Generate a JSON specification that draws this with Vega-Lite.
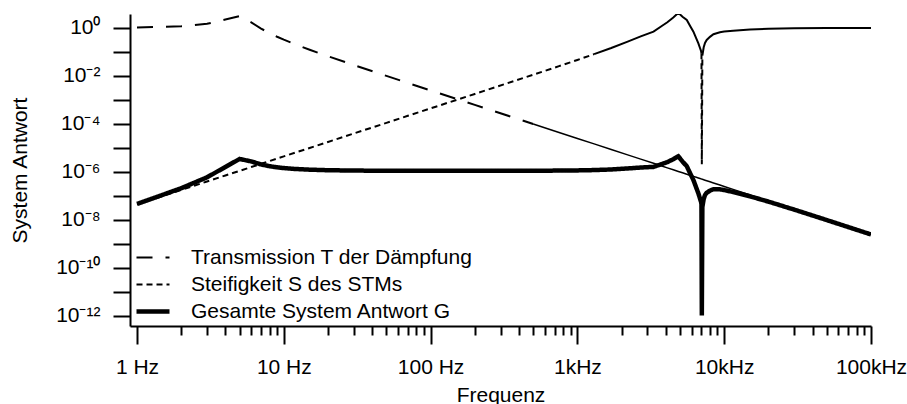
{
  "$schema": "https://vega.github.io/schema/vega-lite/v6.json",
  "width": 741,
  "height": 312,
  "autosize": {"type": "none"},
  "padding": {"left": 130, "top": 14, "right": 36, "bottom": 78},
  "background": "white",
  "config": {
    "view": {"stroke": null},
    "font": "Liberation Sans",
    "axis": {
      "grid": false,
      "domainColor": "black",
      "tickColor": "black",
      "labelColor": "black",
      "titleColor": "black",
      "domainWidth": 2,
      "tickWidth": 2,
      "labelFontSize": 21,
      "titleFontSize": 21,
      "titleFontWeight": "normal",
      "labelFont": "Liberation Sans",
      "titleFont": "Liberation Sans"
    }
  },
  "data": {
    "values": [
      {"f": 1, "T": 1.04, "S": 4.467e-8, "G": 4.646e-8},
      {"f": 2, "T": 1.178, "S": 1.786e-7, "G": 2.104e-7},
      {"f": 3, "T": 1.496, "S": 4.02e-7, "G": 6.014e-7},
      {"f": 4, "T": 2.265, "S": 7.147e-7, "G": 1.619e-6},
      {"f": 5, "T": 3.126, "S": 1.117e-6, "G": 3.492e-6},
      {"f": 6, "T": 1.714, "S": 1.608e-6, "G": 2.756e-6},
      {"f": 7, "T": 0.944, "S": 2.189e-6, "G": 2.066e-6},
      {"f": 8, "T": 0.61, "S": 2.859e-6, "G": 1.744e-6},
      {"f": 9, "T": 0.4325, "S": 3.618e-6, "G": 1.565e-6},
      {"f": 10, "T": 0.326, "S": 4.467e-6, "G": 1.456e-6},
      {"f": 12, "T": 0.2075, "S": 6.432e-6, "G": 1.335e-6},
      {"f": 15, "T": 0.1242, "S": 1.005e-5, "G": 1.248e-6},
      {"f": 20, "T": 0.06637, "S": 1.787e-5, "G": 1.186e-6},
      {"f": 30, "T": 0.02851, "S": 4.02e-5, "G": 1.146e-6},
      {"f": 50, "T": 0.01009, "S": 1.117e-4, "G": 1.127e-6},
      {"f": 70, "T": 0.005127, "S": 2.189e-4, "G": 1.122e-6},
      {"f": 100, "T": 0.002506, "S": 4.467e-4, "G": 1.119e-6},
      {"f": 200, "T": 6.254e-4, "S": 1.787e-3, "G": 1.118e-6},
      {"f": 500, "T": 1.0e-4, "S": 1.128e-2, "G": 1.128e-6},
      {"f": 750, "T": 4.445e-5, "S": 0.02573, "G": 1.144e-6},
      {"f": 1000, "T": 2.5e-5, "S": 0.04664, "G": 1.166e-6},
      {"f": 1300, "T": 1.479e-5, "S": 0.0813, "G": 1.202e-6},
      {"f": 1700, "T": 8.651e-6, "S": 0.147, "G": 1.272e-6},
      {"f": 2200, "T": 5.165e-6, "S": 0.2718, "G": 1.404e-6},
      {"f": 2700, "T": 3.429e-6, "S": 0.447, "G": 1.533e-6},
      {"f": 3300, "T": 2.296e-6, "S": 0.71, "G": 1.63e-6},
      {"f": 3800, "T": 1.731e-6, "S": 1.27, "G": 2.198e-6},
      {"f": 4100, "T": 1.487e-6, "S": 1.738, "G": 2.584e-6},
      {"f": 4500, "T": 1.235e-6, "S": 2.754, "G": 3.401e-6},
      {"f": 4870, "T": 1.054e-6, "S": 4.266, "G": 4.496e-6},
      {"f": 5200, "T": 9.246e-7, "S": 2.95, "G": 2.728e-6},
      {"f": 5560, "T": 8.087e-7, "S": 2.153, "G": 1.741e-6},
      {"f": 5900, "T": 7.182e-7, "S": 1.127, "G": 8.094e-7},
      {"f": 6170, "T": 6.567e-7, "S": 0.703, "G": 4.617e-7},
      {"f": 6450, "T": 6.009e-7, "S": 0.368, "G": 2.211e-7},
      {"f": 6670, "T": 5.619e-7, "S": 0.229, "G": 1.287e-7},
      {"f": 6850, "T": 5.328e-7, "S": 0.143, "G": 7.619e-8},
      {"f": 6950, "T": 5.176e-7, "S": 0.112, "G": 5.797e-8},
      {"f": 7000, "T": 5.102e-7, "S": 0.0891, "G": 4.546e-8},
      {"f": 7040, "T": 5.044e-7, "S": 2.09e-6, "G": 1.054e-12},
      {"f": 7100, "T": 4.959e-7, "S": 0.0708, "G": 3.511e-8},
      {"f": 7250, "T": 4.756e-7, "S": 0.158, "G": 7.514e-8},
      {"f": 7400, "T": 4.565e-7, "S": 0.24, "G": 1.096e-7},
      {"f": 7600, "T": 4.328e-7, "S": 0.316, "G": 1.368e-7},
      {"f": 8000, "T": 3.906e-7, "S": 0.427, "G": 1.668e-7},
      {"f": 8450, "T": 3.501e-7, "S": 0.55, "G": 1.926e-7},
      {"f": 9350, "T": 2.86e-7, "S": 0.661, "G": 1.89e-7},
      {"f": 10000, "T": 2.5e-7, "S": 0.708, "G": 1.77e-7},
      {"f": 11500, "T": 1.89e-7, "S": 0.776, "G": 1.467e-7},
      {"f": 15000, "T": 1.111e-7, "S": 0.871, "G": 9.677e-8},
      {"f": 20000, "T": 6.25e-8, "S": 0.933, "G": 5.831e-8},
      {"f": 30000, "T": 2.778e-8, "S": 0.973, "G": 2.703e-8},
      {"f": 50000, "T": 1.0e-8, "S": 0.991, "G": 9.91e-9},
      {"f": 100000, "T": 2.5e-9, "S": 0.998, "G": 2.495e-9}
    ]
  },
  "transform": [{"fold": ["T", "S", "G"], "as": ["series", "v"]}],
  "resolve": {"axis": {"x": "independent", "y": "independent"}},
  "layer": [
    {
      "transform": [{"filter": "datum.series == 'T' && datum.f <= 500"}],
      "mark": {"type": "line", "stroke": "black", "strokeWidth": 2, "strokeDash": [16, 13], "clip": true},
      "encoding": {
        "x": {"field": "f", "type": "quantitative", "scale": {"type": "log", "domain": [0.896, 100000], "nice": false}, "axis": null},
        "y": {"field": "v", "type": "quantitative", "scale": {"type": "log", "domain": [3.828e-13, 3.828], "nice": false}, "axis": null}
      }
    },
    {
      "transform": [{"filter": "datum.series == 'T' && datum.f >= 500"}],
      "mark": {"type": "line", "stroke": "black", "strokeWidth": 1.5, "clip": true},
      "encoding": {
        "x": {"field": "f", "type": "quantitative", "scale": {"type": "log", "domain": [0.896, 100000], "nice": false},
          "axis": {"orient": "bottom", "values": [2, 3, 4, 5, 6, 7, 8, 9, 20, 30, 40, 50, 60, 70, 80, 90, 200, 300, 400, 500, 600, 700, 800, 900, 2000, 3000, 4000, 5000, 6000, 7000, 8000, 9000, 20000, 30000, 40000, 50000, 60000, 70000, 80000, 90000],
            "tickSize": 9, "labels": false, "domain": false, "title": null}},
        "y": {"field": "v", "type": "quantitative", "scale": {"type": "log", "domain": [3.828e-13, 3.828], "nice": false}, "axis": null}
      }
    },
    {
      "transform": [{"filter": "datum.series == 'S' && datum.f <= 1300"}],
      "mark": {"type": "line", "stroke": "black", "strokeWidth": 2, "strokeDash": [6, 4], "clip": true},
      "encoding": {
        "x": {"field": "f", "type": "quantitative", "scale": {"type": "log", "domain": [0.896, 100000], "nice": false}, "axis": null},
        "y": {"field": "v", "type": "quantitative", "scale": {"type": "log", "domain": [3.828e-13, 3.828], "nice": false}, "axis": null}
      }
    },
    {
      "transform": [{"filter": "datum.series == 'S' && datum.f >= 1300 && datum.f <= 7000"}],
      "mark": {"type": "line", "stroke": "black", "strokeWidth": 2, "clip": true},
      "encoding": {
        "x": {"field": "f", "type": "quantitative", "scale": {"type": "log", "domain": [0.896, 100000], "nice": false}, "axis": null},
        "y": {"field": "v", "type": "quantitative", "scale": {"type": "log", "domain": [3.828e-13, 3.828], "nice": false}, "axis": null}
      }
    },
    {
      "transform": [{"filter": "datum.series == 'S' && datum.f >= 7000 && datum.f <= 7100"}],
      "mark": {"type": "line", "stroke": "black", "strokeWidth": 2, "strokeDash": [6, 4], "clip": true},
      "encoding": {
        "x": {"field": "f", "type": "quantitative", "scale": {"type": "log", "domain": [0.896, 100000], "nice": false}, "axis": null},
        "y": {"field": "v", "type": "quantitative", "scale": {"type": "log", "domain": [3.828e-13, 3.828], "nice": false}, "axis": null}
      }
    },
    {
      "transform": [{"filter": "datum.series == 'S' && datum.f >= 7100"}],
      "mark": {"type": "line", "stroke": "black", "strokeWidth": 2, "clip": true},
      "encoding": {
        "x": {"field": "f", "type": "quantitative", "scale": {"type": "log", "domain": [0.896, 100000], "nice": false}, "axis": null},
        "y": {"field": "v", "type": "quantitative", "scale": {"type": "log", "domain": [3.828e-13, 3.828], "nice": false}, "axis": null}
      }
    },
    {
      "transform": [{"filter": "datum.series == 'G'"}],
      "mark": {"type": "line", "stroke": "black", "clip": true},
      "encoding": {
        "x": {"field": "f", "type": "quantitative", "scale": {"type": "log", "domain": [0.896, 100000], "nice": false},
          "axis": {"orient": "bottom", "values": [1, 10, 100, 1000, 10000, 100000],
            "labelExpr": "datum.value == 1 ? '1 Hz' : datum.value == 10 ? '10 Hz' : datum.value == 100 ? '100 Hz' : datum.value == 1000 ? '1kHz' : datum.value == 10000 ? '10kHz' : '100kHz'",
            "tickSize": 18, "labelPadding": 12, "labelFlush": false, "labelOverlap": false, "labelBound": false,
            "title": "Frequenz", "titleY": 69, "titleBaseline": "middle"}},
        "y": {"field": "v", "type": "quantitative", "scale": {"type": "log", "domain": [3.828e-13, 3.828], "nice": false},
          "axis": {"orient": "left", "values": [1e-12, 1e-11, 1e-10, 1e-9, 1e-8, 1e-7, 1e-6, 1e-5, 1e-4, 1e-3, 0.01, 0.1, 1],
            "labelExpr": "round(log(datum.value)/LN10) == 0 ? '10⁰' : round(log(datum.value)/LN10) == -2 ? '10⁻²' : round(log(datum.value)/LN10) == -4 ? '10⁻⁴' : round(log(datum.value)/LN10) == -6 ? '10⁻⁶' : round(log(datum.value)/LN10) == -8 ? '10⁻⁸' : round(log(datum.value)/LN10) == -10 ? '10⁻¹⁰' : round(log(datum.value)/LN10) == -12 ? '10⁻¹²' : ''",
            "tickSize": 17, "labelPadding": 13, "labelFlush": false, "labelOverlap": false, "labelBound": false,
            "title": "System Antwort", "titleX": -110, "titleY": 156, "titleAngle": -90, "titleAlign": "center", "titleBaseline": "middle"}},
        "strokeDash": {"field": "series", "type": "nominal", "scale": {"type": "ordinal", "domain": ["T", "S", "G"], "range": [[16, 13], [6, 4], [1, 0]]},
          "legend": {"title": null, "orient": "none", "legendX": 12.5, "legendY": 233, "padding": 0, "symbolType": "M-3.3,0H3.3", "symbolSize": 100, "symbolStrokeColor": "black", "symbolFillColor": "transparent", "labelFontSize": 21, "labelFont": "Liberation Sans", "labelColor": "black", "labelOffset": 27.5, "labelLimit": 500, "rowPadding": 5,
            "labelExpr": "datum.label == 'T' ? 'Transmission T der Dämpfung' : datum.label == 'S' ? 'Steifigkeit S des STMs' : 'Gesamte System Antwort G'"}},
        "strokeWidth": {"field": "series", "type": "nominal", "scale": {"type": "ordinal", "domain": ["T", "S", "G"], "range": [2, 2, 4.5]},
          "legend": {"title": null, "orient": "none", "legendX": 12.5, "legendY": 233, "padding": 0, "symbolType": "M-3.3,0H3.3", "symbolSize": 100, "symbolStrokeColor": "black", "symbolFillColor": "transparent", "labelFontSize": 21, "labelFont": "Liberation Sans", "labelColor": "black", "labelOffset": 27.5, "labelLimit": 500, "rowPadding": 5,
            "labelExpr": "datum.label == 'T' ? 'Transmission T der Dämpfung' : datum.label == 'S' ? 'Steifigkeit S des STMs' : 'Gesamte System Antwort G'"}}
      }
    }
  ]
}
